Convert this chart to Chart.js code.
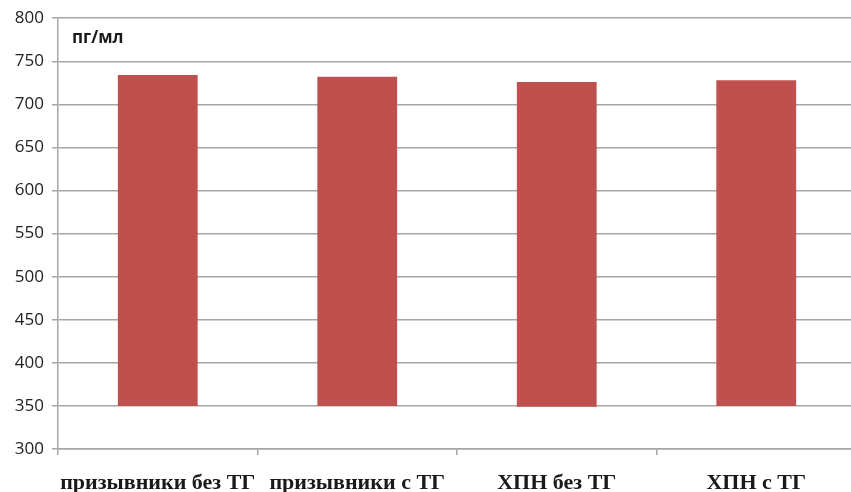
<!DOCTYPE html>
<html>
<head>
<meta charset="utf-8">
<script src="https://cdn.jsdelivr.net/npm/chart.js@4"></script>
<style>
  html, body { margin: 0; padding: 0; background: #fff; overflow: hidden; }
  #wrap { width: 862px; height: 492px; }
</style>
</head>
<body>
<div id="wrap"><canvas id="chart" width="862" height="492"></canvas></div>
<script>
// data
const categories = ['призывники без ТГ', 'призывники с ТГ', 'ХПН без ТГ', 'ХПН с ТГ'];
const barStart = [350, 350, 349, 350];
const barEnd = [734, 732, 726, 728];
const yMin = 300, yMax = 800, yStep = 50;
const unitLabel = 'пг/мл';

const barColor = '#C0504D';
const gridColor = '#a6a6a6';

// "пг/мл" inside the plot, top left
const unitPlugin = {
    id: 'unitLabel',
    afterDraw(chart) {
        const ctx = chart.ctx;
        const area = chart.chartArea;
        ctx.save();
        ctx.font = 'bold 17px "Open Sans", sans-serif';
        ctx.fillStyle = '#1a1a1a';
        ctx.textBaseline = 'middle';
        ctx.fillText(unitLabel, area.left + 14, area.top + 20);
        ctx.restore();
    }
};

new Chart(document.getElementById('chart'), {
    type: 'bar',
    data: {
        labels: categories,
        datasets: [{
            data: categories.map((c, i) => [barStart[i], barEnd[i]]),
            backgroundColor: barColor,
            borderWidth: 0,
            borderSkipped: false,
            barPercentage: 0.4,
            categoryPercentage: 1.0
        }]
    },
    options: {
        responsive: false,
        animation: false,
        layout: { padding: { top: 18, right: 6, left: 0, bottom: 0 } },
        plugins: {
            legend: { display: false },
            tooltip: { enabled: false }
        },
        scales: {
            x: {
                offset: true,
                grid: {
                    display: true,
                    offset: true,
                    drawOnChartArea: false,
                    drawTicks: true,
                    tickLength: 6,
                    color: gridColor,
                    lineWidth: 1.5
                },
                border: { color: gridColor, width: 1.5 },
                ticks: {
                    color: '#1a1a1a',
                    padding: 15,
                    maxRotation: 0,
                    autoSkip: false,
                    font: { family: '"Liberation Serif", serif', size: 22, weight: 'bold' }
                },
                afterFit(scale) { scale.height = 43; }
            },
            y: {
                min: yMin,
                max: yMax,
                grid: {
                    color: gridColor,
                    lineWidth: 1.5,
                    tickLength: 6
                },
                border: { color: gridColor, width: 1.5 },
                ticks: {
                    stepSize: yStep,
                    color: '#222',
                    padding: 8,
                    font: { family: '"Open Sans", sans-serif', size: 17 }
                },
                afterFit(scale) { scale.width = 58; }
            }
        }
    },
    plugins: [unitPlugin]
});
</script>
</body>
</html>
